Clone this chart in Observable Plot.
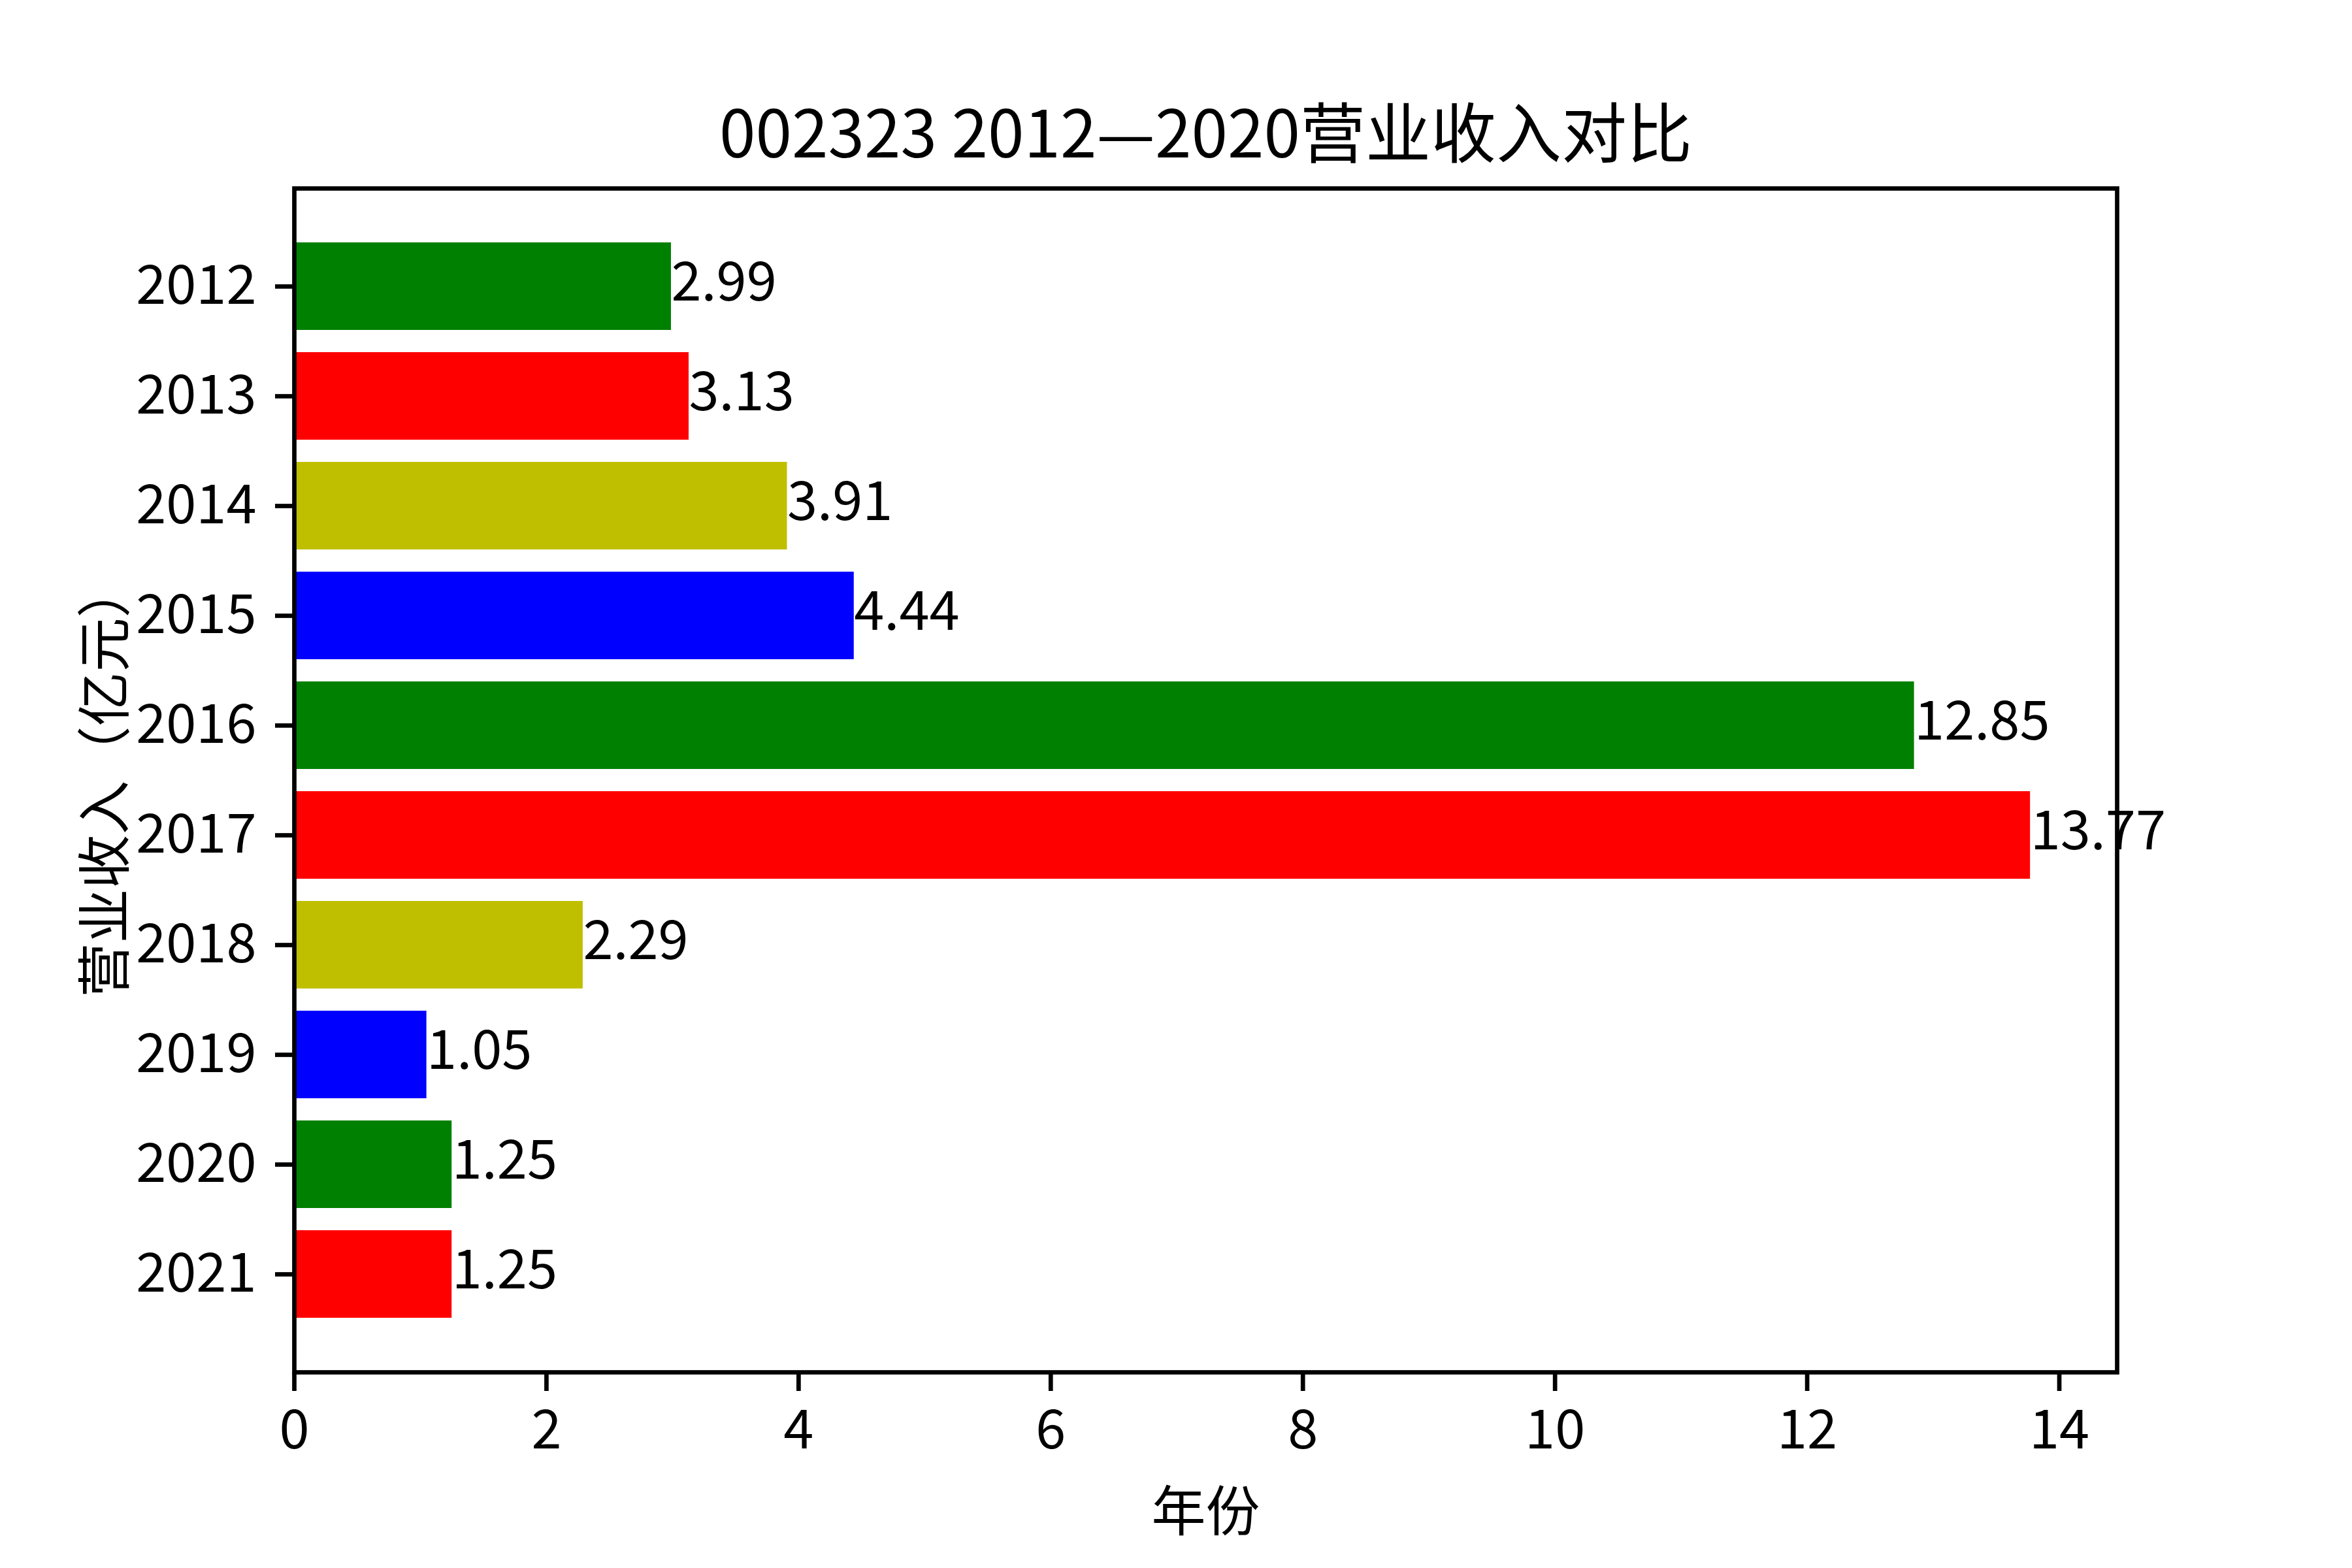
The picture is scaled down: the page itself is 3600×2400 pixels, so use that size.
<!DOCTYPE html>
<html>
<head>
<meta charset="utf-8">
<script src="https://cdn.jsdelivr.net/npm/d3@7"></script>
<script src="https://cdn.jsdelivr.net/npm/@observablehq/plot@0.6"></script>
<style>
  html, body { margin: 0; padding: 0; background: #fff; }
  #chart svg { display: block; }
</style>
</head>
<body>
<div id="chart"></div>
<script>
const years = ["2012", "2013", "2014", "2015", "2016", "2017", "2018", "2019", "2020", "2021"];
const revenue = [2.99, 3.13, 3.91, 4.44, 12.85, 13.77, 2.29, 1.05, 1.25, 1.25];
const barColors = ["#008000", "#ff0000", "#bfbf00", "#0000ff", "#008000", "#ff0000", "#bfbf00", "#0000ff", "#008000", "#ff0000"];
const xTicks = [0, 2, 4, 6, 8, 10, 12, 14];
const titleText = "002323 2012—2020营业收入对比";
const xLabel = "年份";
const yLabel = "营业收入（亿元）";

const rows = years.map((y, i) => ({year: y, value: revenue[i], color: barColors[i]}));
const FONT = "'Noto Sans CJK SC', 'DejaVu Sans', sans-serif";
const FS = 83;
const LW = 6.7;

const chart = Plot.plot({
  width: 3600,
  height: 2400,
  marginLeft: 450,
  marginRight: 360,
  marginTop: 288,
  marginBottom: 300,
  style: {fontFamily: FONT, fontSize: FS + "px", background: "#fff", color: "#000"},
  x: {domain: [0, 13.77 * 1.05], ticks: xTicks},
  y: {domain: years, type: "band", paddingInner: 0.2, paddingOuter: 0.49, align: 0.5},
  marks: [
    Plot.barX(rows, {y: "year", x: "value", fill: "color"}),
    Plot.text(rows, {
      x: "value", y: "year", text: d => String(d.value),
      textAnchor: "start", fontSize: FS, fill: "#000", dy: -5
    }),
    Plot.axisX({ticks: xTicks, tickSize: 29, tickPadding: 29, strokeWidth: LW, fontSize: FS, label: null, tickFormat: d => String(d)}),
    Plot.axisY({tickSize: 29, tickPadding: 29, strokeWidth: LW, fontSize: FS, label: null}),
    Plot.frame({stroke: "#000", strokeWidth: LW}),
    Plot.text([titleText], {text: d => d, frameAnchor: "top", dy: -80, fontSize: 100, lineAnchor: "middle", textAnchor: "middle", fill: "#000"}),
    Plot.text([xLabel], {text: d => d, frameAnchor: "bottom", dy: 216, fontSize: FS, lineAnchor: "middle", textAnchor: "middle", fill: "#000"}),
    Plot.text([yLabel], {text: d => d, frameAnchor: "left", dx: -287, rotate: -90, fontSize: FS, lineAnchor: "middle", textAnchor: "middle", fill: "#000"})
  ]
});
document.getElementById("chart").appendChild(chart);
</script>
</body>
</html>
